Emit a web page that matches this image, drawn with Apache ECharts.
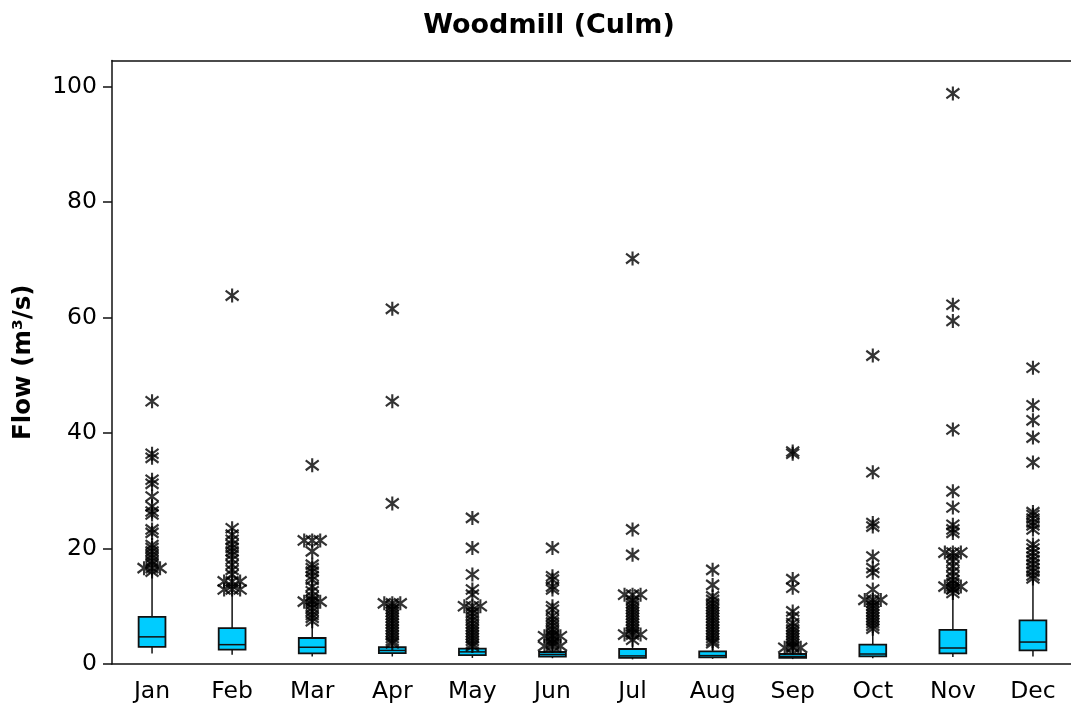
<!DOCTYPE html>
<html>
<head>
<meta charset="utf-8">
<title>Woodmill (Culm)</title>
<script src="https://cdn.jsdelivr.net/npm/echarts@6/dist/echarts.min.js"></script>
<style>
  html, body { margin: 0; padding: 0; background: #fff; overflow: hidden; width: 1071px; height: 711px; }
  /* the plot frame runs past the right edge of the page, so the chart canvas is a little wider */
  #chart { width: 1100px; height: 711px; }
</style>
</head>
<body>
<div id="chart"></div>
<script>
// Monthly flow distribution at Woodmill on the River Culm (m³/s)
const months = ['Jan', 'Feb', 'Mar', 'Apr', 'May', 'Jun', 'Jul', 'Aug', 'Sep', 'Oct', 'Nov', 'Dec'];
const yTicks = [0, 20, 40, 60, 80, 100];

// Box-and-whisker summaries per month
const whiskerLow  = [1.8, 1.6, 1.3, 1.3, 1.05, 1.0, 0.8, 0.9, 0.85, 1.0, 1.2, 1.3];
const quartile1   = [2.95, 2.5, 1.85, 1.9, 1.55, 1.27, 1.05, 1.15, 1.05, 1.32, 1.85, 2.36];
const medianFlow  = [4.7, 3.35, 2.9, 2.35, 2.1, 1.65, 1.4, 1.45, 1.3, 1.73, 2.77, 3.8];
const quartile3   = [8.15, 6.2, 4.5, 2.9, 2.65, 2.08, 2.6, 2.2, 1.73, 3.35, 5.9, 7.55];
const whiskerHigh = [15.8, 12.6, 7.2, 3.4, 2.9, 2.9, 3.9, 3.3, 2.6, 5.6, 11.8, 14.6];

// Outlying daily flows per month
const outJan = [45.5, 36.4, 35.7, 31.9, 31.2, 29.0, 27.3, 26.4, 25.9, 23.3, 22.7, 20.6, 20.1, 19.5, 18.9, 18.4, 17.8, 17.3, 16.6, 16.6, 16.6, 16.0];
const outFeb = [63.8, 23.5, 22.4, 21.5, 20.7, 20.1, 19.5, 18.9, 18.1, 17.2, 16.3, 15.5, 14.3, 14.3, 14.3, 13.5, 12.9, 12.9, 12.9];
const outMar = [34.4, 21.4, 21.4, 21.4, 19.5, 17.2, 16.6, 16.0, 15.2, 14.6, 13.4, 12.6, 11.7, 11.1, 10.8, 10.8, 10.8, 10.3, 9.7, 9.1, 8.5, 8.0, 7.4];
const outApr = [61.5, 45.5, 27.8, 10.5, 10.5, 10.5, 10.0, 9.5, 9.0, 8.5, 8.0, 7.5, 7.0, 6.5, 6.0, 5.5, 5.0, 4.5, 4.0, 3.6];
const outMay = [25.3, 20.1, 15.5, 12.9, 12.0, 10.0, 10.0, 10.0, 9.4, 8.8, 8.2, 7.6, 7.0, 6.5, 6.0, 5.5, 5.0, 4.5, 4.0, 3.5, 3.1];
const outJun = [20.1, 15.2, 14.6, 13.4, 12.9, 10.0, 9.4, 8.3, 7.7, 7.2, 6.6, 6.0, 5.5, 5.0, 4.8, 4.8, 4.8, 4.3, 3.8, 3.5, 3.1, 3.1, 3.1];
const outJul = [70.2, 23.3, 18.9, 12.0, 12.0, 12.0, 11.1, 10.5, 10.0, 9.5, 9.0, 8.5, 8.0, 7.5, 7.0, 6.5, 6.0, 5.5, 5.1, 5.1, 5.1, 4.2];
const outAug = [16.3, 13.7, 11.7, 11.1, 10.5, 10.0, 9.5, 9.0, 8.5, 8.0, 7.5, 7.0, 6.5, 6.0, 5.5, 5.0, 4.5, 4.0, 3.6];
const outSep = [36.8, 36.4, 14.7, 13.2, 9.1, 8.2, 7.1, 6.5, 6.0, 5.5, 5.0, 4.5, 4.0, 3.5, 3.05, 2.8, 2.8, 2.8];
const outOct = [53.4, 33.2, 24.4, 23.8, 18.6, 16.6, 15.8, 12.9, 11.1, 11.1, 11.1, 10.6, 10.1, 9.6, 9.1, 8.6, 8.1, 7.6, 7.1, 6.6, 6.1];
const outNov = [98.8, 62.2, 59.4, 40.6, 29.9, 27.1, 24.1, 23.3, 22.7, 19.3, 19.3, 19.3, 18.6, 17.8, 16.9, 16.0, 15.2, 14.5, 14.0, 13.4, 13.4, 13.4, 13.0, 12.9, 12.3];
const outDec = [51.3, 44.8, 42.2, 39.2, 34.9, 26.3, 25.8, 25.2, 24.5, 24.0, 23.3, 20.7, 20.0, 19.3, 18.6, 18.0, 17.3, 16.6, 16.0, 15.3, 14.8];

const outliersByMonth = [outJan, outFeb, outMar, outApr, outMay, outJun, outJul, outAug, outSep, outOct, outNov, outDec];

const FONT = 'DejaVu Sans';
const BOX_FILL = '#00ccff';
const INK = '#111111';
// six-armed asterisk: one vertical stroke plus two diagonals
const ASTERISK = 'path://M6,0L6,12M1,1.8L11,10.2M1,10.2L11,1.8';

// Box data rows: [monthIndex, low, q1, median, q3, high]
const boxRows = months.map((m, i) => [i, whiskerLow[i], quartile1[i], medianFlow[i], quartile3[i], whiskerHigh[i]]);

// Outlier points; repeated values are spread sideways so each one stays visible
const outlierPoints = [];
outliersByMonth.forEach((vals, i) => {
  const counts = {};
  vals.forEach(v => { counts[v] = (counts[v] || 0) + 1; });
  const seen = {};
  vals.forEach(v => {
    const n = counts[v];
    const k = seen[v] || 0;
    seen[v] = k + 1;
    const dx = n > 1 ? (k - (n - 1) / 2) * 8 : 0;
    outlierPoints.push({ value: [i, v], symbolOffset: [dx, 0] });
  });
});

function renderBox(params, api) {
  const idx = api.value(0);
  const low = api.coord([idx, api.value(1)]);
  const q1 = api.coord([idx, api.value(2)]);
  const med = api.coord([idx, api.value(3)]);
  const q3 = api.coord([idx, api.value(4)]);
  const high = api.coord([idx, api.value(5)]);
  const bw = api.size([1, 0])[0] * 0.335;
  const cx = q1[0];
  const lineStyle = { stroke: INK, lineWidth: 1.5 };
  return {
    type: 'group',
    children: [
      { type: 'line', shape: { x1: cx, y1: low[1], x2: cx, y2: q1[1] }, style: lineStyle },
      { type: 'line', shape: { x1: cx, y1: q3[1], x2: cx, y2: high[1] }, style: lineStyle },
      { type: 'rect', shape: { x: cx - bw / 2, y: q3[1], width: bw, height: q1[1] - q3[1] },
        style: { fill: BOX_FILL, stroke: INK, lineWidth: 1.8 } },
      { type: 'line', shape: { x1: cx - bw / 2, y1: med[1], x2: cx + bw / 2, y2: med[1] }, style: lineStyle }
    ]
  };
}

const chart = echarts.init(document.getElementById('chart'), null, { renderer: 'canvas' });
chart.setOption({
  animation: false,
  backgroundColor: '#ffffff',
  title: {
    text: 'Woodmill (Culm)',
    left: 544,
    top: 7,
    textAlign: 'center',
    textStyle: { fontFamily: FONT, fontWeight: 'bold', fontSize: 27, color: '#000' }
  },
  grid: {
    left: 112, top: 60.5, width: 961, bottom: 47,
    outerBoundsMode: 'none',
    containLabel: false,
    show: false
  },
  xAxis: [
    {
      type: 'category',
      data: months,
      boundaryGap: true,
      axisLine: { lineStyle: { color: INK, width: 1.5 } },
      axisTick: { alignWithLabel: true, length: 9, lineStyle: { color: INK, width: 1.5 } },
      axisLabel: { fontFamily: FONT, fontSize: 23.5, color: '#000', margin: 16 },
      splitLine: { show: false }
    },
    {
      // frame line along the top of the plot
      type: 'category',
      data: months,
      position: 'top',
      axisLine: { show: true, lineStyle: { color: INK, width: 1.5 } },
      axisTick: { show: false },
      axisLabel: { show: false },
      splitLine: { show: false }
    }
  ],
  yAxis: {
    type: 'value',
    min: 0,
    max: 104.5,
    interval: 20,
    name: 'Flow (m³/s)',
    nameLocation: 'middle',
    nameGap: 76,
    nameTextStyle: { fontFamily: FONT, fontWeight: 'bold', fontSize: 24.5, color: '#000' },
    axisLine: { show: true, lineStyle: { color: INK, width: 1.5 } },
    axisTick: { show: true, length: 9, customValues: yTicks, lineStyle: { color: INK, width: 1.5 } },
    axisLabel: {
      fontFamily: FONT, fontSize: 23.5, color: '#000', margin: 15,
      customValues: yTicks
    },
    splitLine: { show: false }
  },
  series: [
    {
      type: 'custom',
      name: 'Flow',
      renderItem: renderBox,
      encode: { x: 0, y: [1, 2, 3, 4, 5] },
      data: boxRows,
      z: 2
    },
    {
      type: 'scatter',
      name: 'Outliers',
      symbol: ASTERISK,
      symbolSize: [13, 14],
      itemStyle: { color: 'rgba(0,0,0,0)', borderColor: '#000', borderWidth: 2.2 },
      data: outlierPoints,
      z: 3
    }
  ]
});
</script>
</body>
</html>
